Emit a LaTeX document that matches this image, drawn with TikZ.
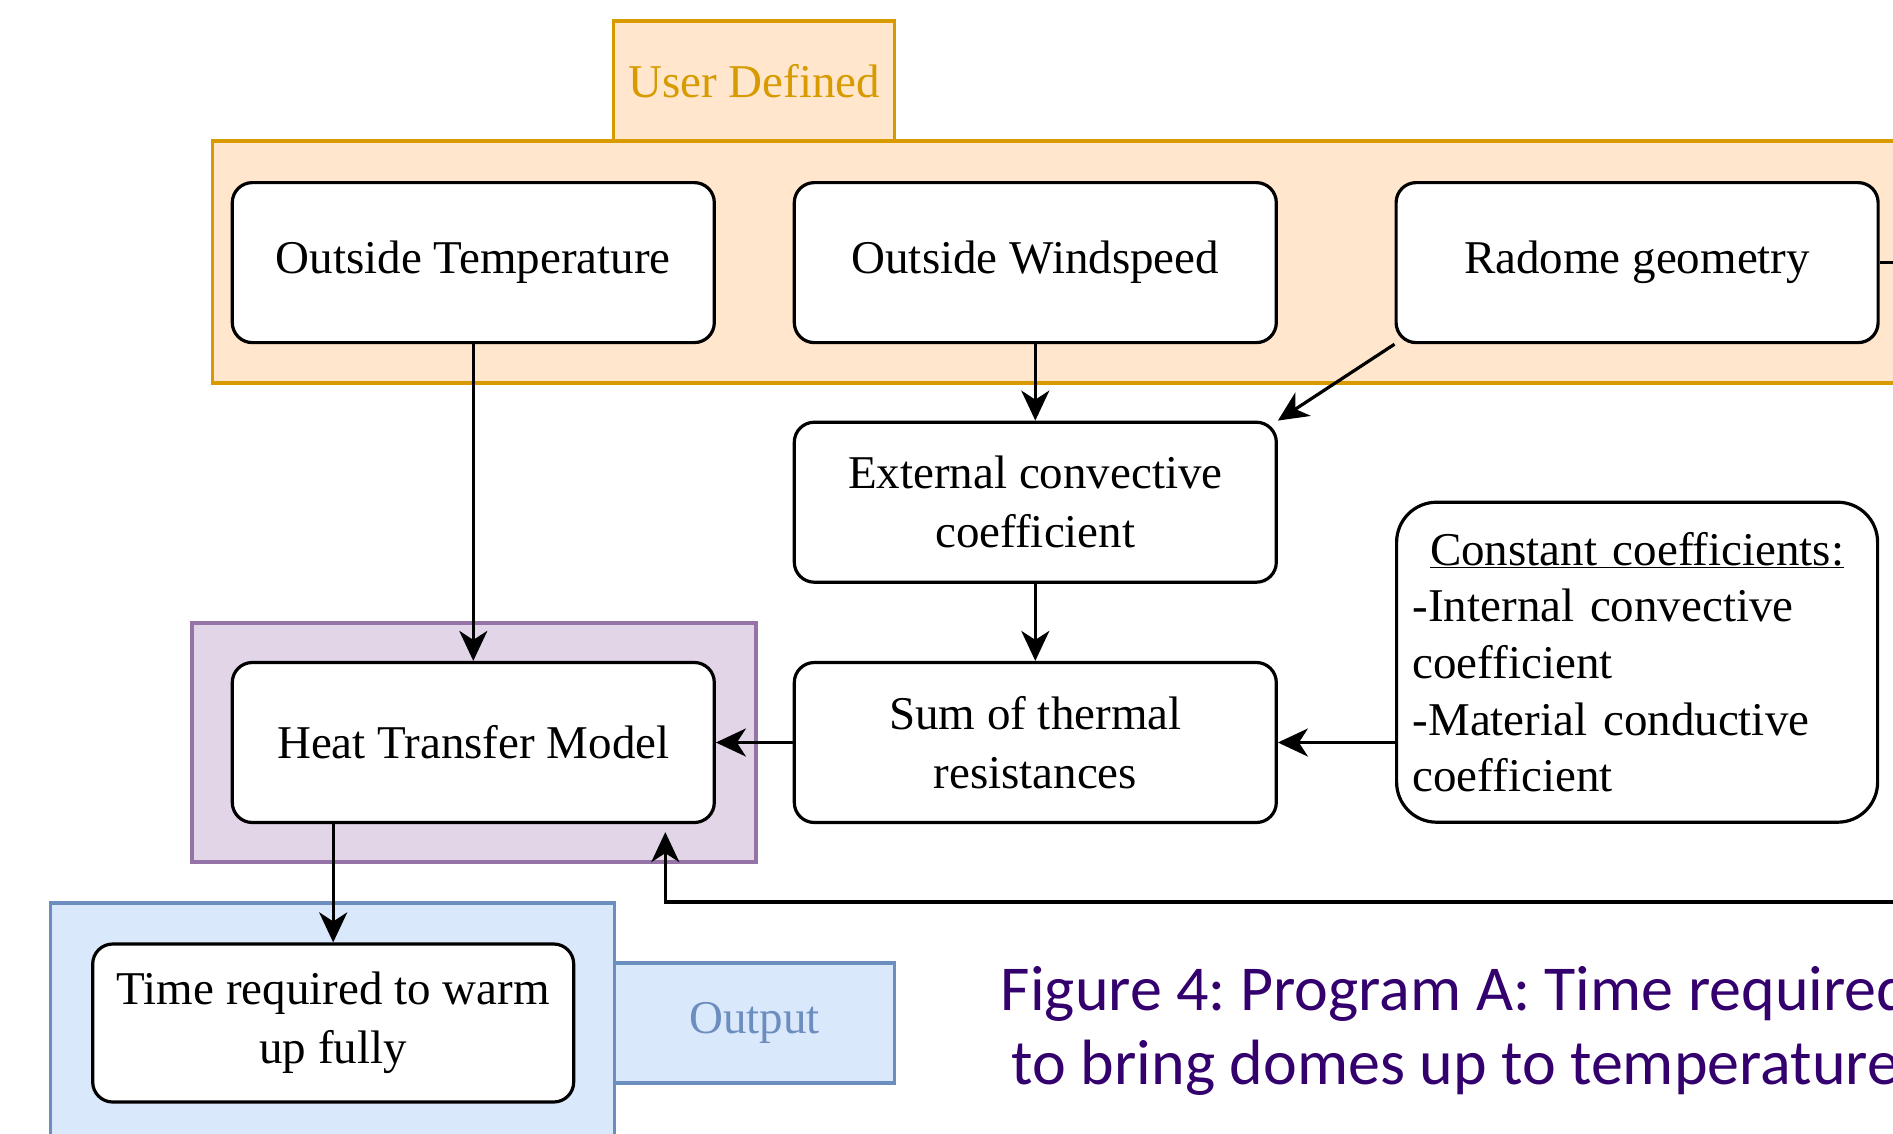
\documentclass[tikz,border=0pt]{standalone}
\usepackage{fontspec}
\setmainfont{Liberation Serif}
\newfontfamily\capfont{Carlito}
\usetikzlibrary{arrows.meta}
\frenchspacing
\definecolor{udfill}{HTML}{FFE6CC}
\definecolor{udline}{HTML}{D79B00}
\definecolor{mfill}{HTML}{E1D5E7}
\definecolor{mline}{HTML}{9673A6}
\definecolor{ofill}{HTML}{DAE8FC}
\definecolor{oline}{HTML}{6C8EBF}
\definecolor{captext}{RGB}{51,0,110}
\begin{document}
\begin{tikzpicture}[x=1pt,y=-1pt,
  box/.style={draw=black, line width=3.2pt, fill=white, rounded corners=20pt,
    minimum width=482pt, minimum height=160pt, inner sep=0pt, align=center,
    font=\fontsize{47}{59}\selectfont},
  grp/.style={line width=3.5pt},
  tabbox/.style={line width=3.5pt, inner sep=0pt, minimum width=281pt,
    minimum height=120pt, font=\fontsize{47}{59}\selectfont},
  flow/.style={line width=3.2pt, -{Stealth[length=30pt,width=28pt,inset=9pt]}},
  link/.style={line width=3.2pt},
  captxt/.style={text=captext, anchor=base, inner sep=0pt,
    font=\capfont\fontsize{64}{74}\selectfont}]
\useasboundingbox (0,0) rectangle (1893,1133);
\clip (0,0) rectangle (1893,1133);

% group containers and their tabs
\node[tabbox, draw=udline, fill=udfill, text=udline] (usertab) at (754,81) {User Defined};
\draw[grp, draw=udline, fill=udfill] (212.5,141) rectangle (1930,383);
\draw[grp, draw=mline, fill=mfill] (192,623) rectangle (755.8,862);
\draw[grp, draw=oline, fill=ofill] (50.7,903) rectangle (614.5,1160);
\node[tabbox, draw=oline, fill=ofill, text=oline, minimum width=280pt] (outtab) at (754.5,1023) {Output};

% process boxes
\node[box] (temp)   at (473.3,262.6) {Outside Temperature};
\node[box] (wind)   at (1035.3,262.6) {Outside Windspeed};
\node[box] (radome) at (1637.1,262.6) {Radome geometry};
\node[box] (ecc)    at (1035.3,502.2) {External convective\\coefficient};
\node[box] (sum)    at (1035.3,742.5) {Sum of thermal\\resistances};
\node[box] (htm)    at (473.3,742.5) {Heat Transfer Model};
\node[box, minimum width=481pt, minimum height=158pt] (time) at (333.2,1023) {Time required to warm\\up fully};
\node[box, rounded corners=40pt, minimum width=481pt, minimum height=320pt,
  text width=449pt, inner xsep=16pt, align=left,
  font=\fontsize{47}{56.7}\selectfont] (const) at (1637.1,662.2)
  {\makebox[449pt][c]{\underline{Constant coefficients:}}\\-Internal convective\\coefficient\\-Material conductive\\coefficient};

% connectors
\coordinate (radomeout) at (1940,262.6);
\coordinate (loopin) at (1940,902);
\draw[flow] (temp.south) -- (htm.north);
\draw[flow] (wind.south) -- (ecc.north);
\draw[flow] (radome.south west) -- (ecc.north east);
\draw[flow] (ecc.south) -- (sum.north);
\draw[flow] (sum.west) -- (htm.east);
\draw[flow] (const.west |- sum.east) -- (sum.east);
\draw[flow] (htm.south -| time.north) -- (time.north);
\draw[link] (radome.east) -- (radomeout);
\draw[flow, shorten >=8pt] (loopin) -| ([xshift=192pt]htm.south);

% caption
\node[captxt] (cap1) at (1455.5,1010) {Figure 4: Program A: Time required};
\node[captxt] (cap2) at (1455.5,1084) {to bring domes up to temperature};
\end{tikzpicture}
\end{document}
